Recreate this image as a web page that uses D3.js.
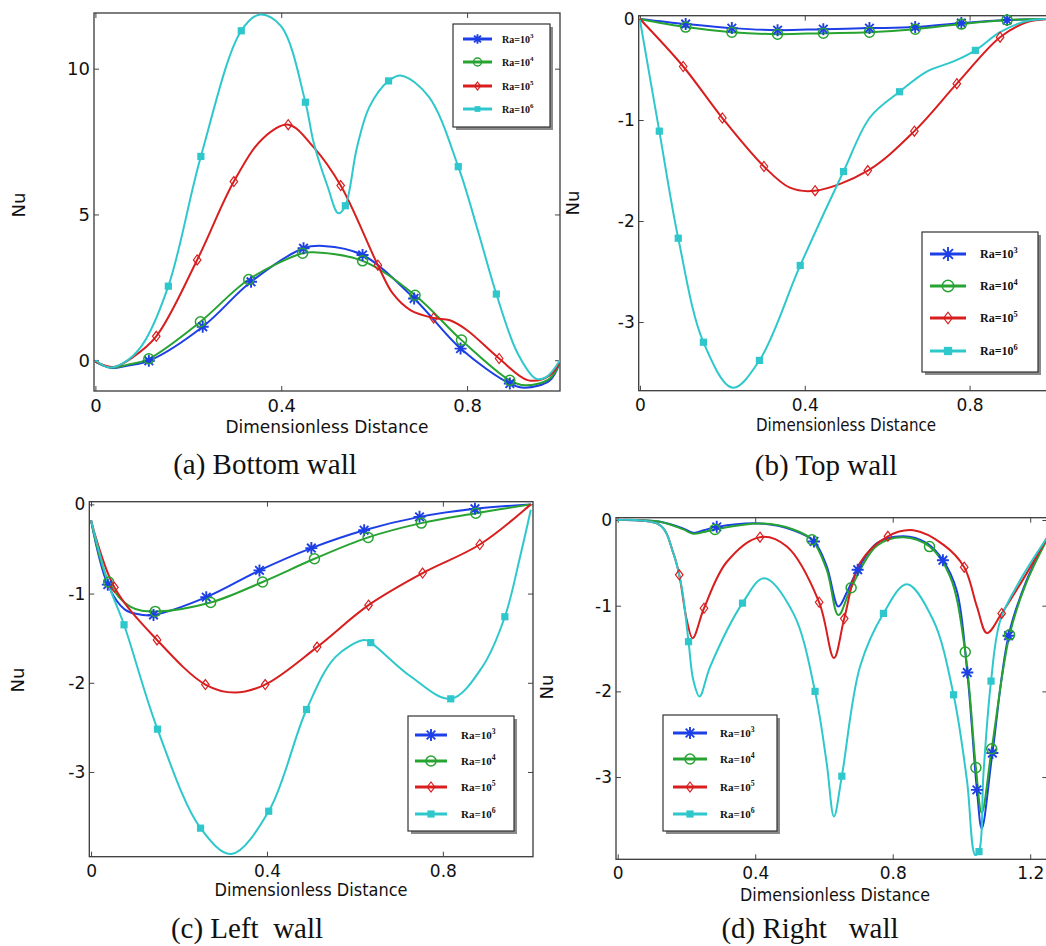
<!DOCTYPE html>
<html>
<head>
<meta charset="utf-8">
<script src="https://cdn.jsdelivr.net/npm/d3@7"></script>
<style>
body { margin: 0; background: #fff; }
svg { display: block; }
text { font-family: "DejaVu Sans", sans-serif; fill: #111; }
.caption { font-family: "Liberation Serif", "Times New Roman", serif; white-space: pre; }
.leg { font-family: "Liberation Serif", "Times New Roman", serif; font-weight: bold; }
</style>
</head>
<body>
<svg id="chart"></svg>
<script>
/* ---------- data ---------- */
var seriesNames = ["Ra=10", "Ra=10", "Ra=10", "Ra=10"]
var seriesExp = ["3", "4", "5", "6"]
var xTickLabels = ["0", "0.4", "0.8"]
var xTickLabelsRight = ["0", "0.4", "0.8", "1.2"]
var captions = ["(a) Bottom wall", "(b) Top wall", "(c) Left  wall", "(d) Right   wall"]

/* (a) bottom wall */
var bottomRa3 = [[0,-0.05],[0.032,-0.26],[0.07,-0.18],[0.115,-0.02],[0.231,1.15],[0.335,2.69],[0.448,3.84],[0.49,3.92],[0.575,3.61],[0.686,2.12],[0.786,0.40],[0.892,-0.8],[0.925,-0.94],[0.978,-0.69],[1.0,-0.05]]
var bottomRa3Marks = [[0.115,-0.02],[0.231,1.15],[0.335,2.69],[0.448,3.84],[0.575,3.61],[0.686,2.12],[0.786,0.40],[0.892,-0.8]]
var bottomRa4 = [[0,-0.05],[0.032,-0.25],[0.07,-0.15],[0.115,0.05],[0.226,1.32],[0.33,2.77],[0.446,3.67],[0.47,3.7],[0.575,3.41],[0.688,2.23],[0.788,0.69],[0.892,-0.69],[0.925,-0.86],[0.978,-0.63],[1.0,-0.05]]
var bottomRa4Marks = [[0.115,0.05],[0.226,1.32],[0.33,2.77],[0.446,3.67],[0.575,3.41],[0.688,2.23],[0.788,0.69],[0.892,-0.69]]
var bottomRa5 = [[0,-0.05],[0.04,-0.23],[0.08,0.1],[0.131,0.82],[0.219,3.44],[0.298,6.13],[0.36,7.6],[0.415,8.08],[0.47,7.3],[0.528,5.99],[0.608,3.26],[0.64,2.29],[0.678,1.72],[0.728,1.45],[0.763,1.37],[0.80,1.03],[0.869,0.06],[0.932,-0.69],[0.978,-0.52],[1.0,-0.05]]
var bottomRa5Marks = [[0.131,0.82],[0.219,3.44],[0.298,6.13],[0.415,8.08],[0.528,5.99],[0.608,3.26],[0.728,1.45],[0.869,0.06]]
var bottomRa6 = [[0,0],[0.03,-0.25],[0.06,-0.1],[0.10,0.5],[0.157,2.54],[0.227,6.99],[0.314,11.3],[0.355,11.86],[0.40,11.45],[0.452,8.85],[0.47,7.45],[0.50,5.95],[0.523,5.04],[0.538,5.3],[0.563,7.3],[0.59,8.7],[0.631,9.58],[0.659,9.76],[0.717,9.05],[0.781,6.64],[0.825,4.35],[0.863,2.27],[0.909,0.23],[0.948,-0.63],[0.971,-0.57],[1.0,0]]
var bottomRa6Marks = [[0.157,2.54],[0.227,6.99],[0.314,11.3],[0.452,8.85],[0.538,5.3],[0.631,9.58],[0.781,6.64],[0.863,2.27]]

/* (b) top wall */
var topRa3 = [[0,0],[0.111,-0.05],[0.223,-0.09],[0.334,-0.11],[0.445,-0.10],[0.557,-0.09],[0.668,-0.08],[0.78,-0.04],[0.891,-0.01],[1,0]]
var topRa3Marks = [[0.111,-0.05],[0.223,-0.09],[0.334,-0.11],[0.445,-0.10],[0.557,-0.09],[0.668,-0.08],[0.78,-0.04],[0.891,-0.01]]
var topRa4 = [[0,0],[0.111,-0.08],[0.223,-0.13],[0.334,-0.15],[0.445,-0.14],[0.557,-0.13],[0.668,-0.10],[0.78,-0.05],[0.891,-0.01],[1,0]]
var topRa4Marks = [[0.111,-0.08],[0.223,-0.13],[0.334,-0.15],[0.445,-0.14],[0.557,-0.13],[0.668,-0.10],[0.78,-0.05],[0.891,-0.01]]
var topRa5 = [[0,0],[0.105,-0.47],[0.2,-0.98],[0.301,-1.46],[0.364,-1.67],[0.425,-1.70],[0.553,-1.50],[0.666,-1.11],[0.769,-0.64],[0.874,-0.18],[0.94,-0.03],[1,0]]
var topRa5Marks = [[0.105,-0.47],[0.2,-0.98],[0.301,-1.46],[0.425,-1.70],[0.553,-1.50],[0.666,-1.11],[0.769,-0.64],[0.874,-0.18]]
var topRa6 = [[0,-0.01],[0.047,-1.11],[0.093,-2.17],[0.154,-3.2],[0.225,-3.65],[0.29,-3.38],[0.389,-2.44],[0.494,-1.51],[0.559,-0.97],[0.63,-0.72],[0.696,-0.52],[0.761,-0.42],[0.814,-0.31],[0.874,-0.13],[0.939,-0.02],[1,0]]
var topRa6Marks = [[0.047,-1.11],[0.093,-2.17],[0.154,-3.2],[0.29,-3.38],[0.389,-2.44],[0.494,-1.51],[0.63,-0.72],[0.814,-0.31]]

/* (c) left wall */
var leftRa3 = [[0,-0.18],[0.038,-0.9],[0.077,-1.18],[0.118,-1.24],[0.142,-1.24],[0.262,-1.04],[0.383,-0.74],[0.501,-0.49],[0.621,-0.29],[0.747,-0.14],[0.873,-0.05],[1,0]]
var leftRa3Marks = [[0.038,-0.9],[0.142,-1.24],[0.262,-1.04],[0.383,-0.74],[0.501,-0.49],[0.621,-0.29],[0.747,-0.14],[0.873,-0.05]]
var leftRa4 = [[0,-0.18],[0.04,-0.87],[0.09,-1.15],[0.146,-1.2],[0.272,-1.10],[0.39,-0.87],[0.508,-0.61],[0.63,-0.37],[0.751,-0.21],[0.875,-0.10],[1,0]]
var leftRa4Marks = [[0.04,-0.87],[0.146,-1.2],[0.272,-1.10],[0.39,-0.87],[0.508,-0.61],[0.63,-0.37],[0.751,-0.21],[0.875,-0.10]]
var leftRa5 = [[0,-0.18],[0.053,-0.93],[0.15,-1.52],[0.26,-2.02],[0.327,-2.11],[0.396,-2.02],[0.514,-1.6],[0.631,-1.13],[0.754,-0.77],[0.884,-0.45],[1,0]]
var leftRa5Marks = [[0.053,-0.93],[0.15,-1.52],[0.26,-2.02],[0.396,-2.02],[0.514,-1.6],[0.631,-1.13],[0.754,-0.77],[0.884,-0.45]]
var leftRa6 = [[0,-0.18],[0.04,-0.9],[0.075,-1.35],[0.151,-2.52],[0.249,-3.63],[0.319,-3.92],[0.404,-3.44],[0.49,-2.3],[0.556,-1.71],[0.621,-1.52],[0.636,-1.55],[0.727,-1.93],[0.818,-2.18],[0.89,-1.82],[0.941,-1.26],[0.975,-0.6],[1.0,-0.06]]
var leftRa6Marks = [[0.075,-1.35],[0.151,-2.52],[0.249,-3.63],[0.404,-3.44],[0.49,-2.3],[0.636,-1.55],[0.818,-2.18],[0.941,-1.26]]

/* (d) right wall */
var rightRa3 = [[0,0],[0.123,-0.02],[0.191,-0.1],[0.22,-0.15],[0.25,-0.12],[0.288,-0.08],[0.414,-0.04],[0.511,-0.12],[0.571,-0.25],[0.608,-0.54],[0.642,-1.01],[0.666,-0.85],[0.698,-0.58],[0.754,-0.27],[0.831,-0.19],[0.899,-0.27],[0.946,-0.47],[0.986,-0.82],[1.017,-1.78],[1.045,-3.15],[1.059,-3.6],[1.09,-2.72],[1.137,-1.35],[1.19,-0.70],[1.25,-0.2]]
var rightRa3Marks = [[0.288,-0.08],[0.571,-0.25],[0.698,-0.58],[0.946,-0.47],[1.017,-1.78],[1.045,-3.15],[1.09,-2.72],[1.137,-1.35]]
var rightRa4 = [[0,0],[0.123,-0.02],[0.191,-0.11],[0.22,-0.16],[0.25,-0.14],[0.283,-0.11],[0.414,-0.04],[0.511,-0.11],[0.565,-0.23],[0.608,-0.58],[0.642,-1.11],[0.679,-0.79],[0.754,-0.3],[0.831,-0.2],[0.907,-0.31],[0.967,-0.66],[1.011,-1.54],[1.042,-2.89],[1.059,-3.42],[1.088,-2.67],[1.14,-1.34],[1.19,-0.72],[1.25,-0.22]]
var rightRa4Marks = [[0.283,-0.11],[0.565,-0.23],[0.679,-0.79],[0.907,-0.31],[1.011,-1.54],[1.042,-2.89],[1.088,-2.67],[1.14,-1.34]]
var rightRa5 = [[0,0],[0.123,-0.06],[0.162,-0.39],[0.179,-0.64],[0.201,-1.17],[0.218,-1.38],[0.251,-1.03],[0.317,-0.49],[0.414,-0.20],[0.492,-0.31],[0.586,-0.96],[0.629,-1.61],[0.659,-1.15],[0.705,-0.5],[0.786,-0.19],[0.86,-0.12],[0.948,-0.29],[1.008,-0.55],[1.045,-1.01],[1.074,-1.32],[1.117,-1.09],[1.19,-0.62],[1.25,-0.2]]
var rightRa5Marks = [[0.179,-0.64],[0.251,-1.03],[0.414,-0.20],[0.586,-0.96],[0.659,-1.15],[0.786,-0.19],[1.008,-0.55],[1.117,-1.09]]
var rightRa6 = [[0,0],[0.123,-0.06],[0.162,-0.39],[0.186,-0.78],[0.206,-1.42],[0.22,-1.87],[0.238,-2.06],[0.269,-1.71],[0.363,-0.97],[0.426,-0.68],[0.511,-1.09],[0.574,-2.0],[0.608,-2.84],[0.629,-3.46],[0.652,-2.99],[0.705,-1.71],[0.773,-1.09],[0.841,-0.75],[0.918,-1.17],[0.977,-2.04],[1.016,-3.04],[1.04,-3.91],[1.051,-3.87],[1.064,-2.96],[1.086,-1.88],[1.113,-1.17],[1.171,-0.70],[1.25,-0.2]]
var rightRa6Marks = [[0.206,-1.42],[0.363,-0.97],[0.574,-2.0],[0.652,-2.99],[0.773,-1.09],[0.977,-2.04],[1.051,-3.87],[1.086,-1.88]]

/* ---------- styles ---------- */
var colors = ["#1d3fe6", "#27a332", "#d81e1e", "#2ec8cc"]
var markers = ["star", "circle", "diamond", "square"]

var width = 1046
var height = 946

var svg = d3.select("#chart")
    .attr("width", width)
    .attr("height", height)

svg.append("rect").attr("width", width).attr("height", height).attr("fill", "#fff")

/* Panels */
var panels = [
    {
        lines: [bottomRa3, bottomRa4, bottomRa5, bottomRa6],
        marks: [bottomRa3Marks, bottomRa4Marks, bottomRa5Marks, bottomRa6Marks],
        xDomain: [-0.003, 1.0], xRange: [94, 560],
        yDomain: [-1.055, 11.91], yRange: [391, 13],
        xTicks: [0, 0.4, 0.8], xLabels: xTickLabels, yTicks: [0, 5, 10], yLabels: ["0", "5", "10"],
        tickFont: 18, titleX: 327, titleY: 433, titleLen: 203, nuX: 19, nuY: 205,
        legend: { x: 453, y: 24, w: 97, h: 103, rows: [39, 62, 86, 109], lx: [463, 492], tx: 502, font: 10, ms: 0.8 },
        caption: captions[0], capX: 265, capY: 474
    },
    {
        lines: [topRa3, topRa4, topRa5, topRa6],
        marks: [topRa3Marks, topRa4Marks, topRa5Marks, topRa6Marks],
        xDomain: [-0.003, 1.0], xRange: [638.7, 1052],
        yDomain: [-3.68, 0.033], yRange: [390.7, 15.7],
        xTicks: [0, 0.4, 0.8], xLabels: xTickLabels, yTicks: [0, -1, -2, -3], yLabels: ["0", "-1", "-2", "-3"],
        tickFont: 17, titleX: 846, titleY: 431, titleLen: 180, nuX: 573, nuY: 203,
        legend: { x: 922, y: 232, w: 116, h: 140, rows: [254, 286, 318, 351], lx: [930, 966], tx: 980, font: 12, ms: 1.15 },
        caption: captions[1], capX: 826, capY: 475
    },
    {
        lines: [leftRa3, leftRa4, leftRa5, leftRa6],
        marks: [leftRa3Marks, leftRa4Marks, leftRa5Marks, leftRa6Marks],
        xDomain: [-0.004, 1.005], xRange: [89.3, 533],
        yDomain: [-3.95, 0.03], yRange: [856.7, 501.7],
        xTicks: [0, 0.4, 0.8], xLabels: xTickLabels, yTicks: [0, -1, -2, -3], yLabels: ["0", "-1", "-2", "-3"],
        tickFont: 17, titleX: 311, titleY: 896, titleLen: 193, nuX: 18, nuY: 680,
        legend: { x: 408, y: 716, w: 106, h: 115, rows: [735, 761, 787, 814], lx: [415, 447], tx: 461, font: 11, ms: 1.0 },
        caption: captions[2], capX: 247, capY: 938
    },
    {
        lines: [rightRa3, rightRa4, rightRa5, rightRa6],
        marks: [rightRa3Marks, rightRa4Marks, rightRa5Marks, rightRa6Marks],
        xDomain: [-0.005, 1.25], xRange: [616, 1047.4],
        yDomain: [-3.96, 0.027], yRange: [859.3, 517.7],
        xTicks: [0, 0.4, 0.8, 1.2], xLabels: xTickLabelsRight, yTicks: [0, -1, -2, -3], yLabels: ["0", "-1", "-2", "-3"],
        tickFont: 17, titleX: 835, titleY: 901, titleLen: 190, nuX: 547, nuY: 687,
        legend: { x: 663, y: 715, w: 114, h: 116, rows: [733, 759, 787, 814], lx: [673, 707], tx: 720, font: 11, ms: 1.0 },
        caption: captions[3], capX: 810, capY: 938
    }
]

function drawMarker(g, type, color, s) {
    if (type == "star") {
        var a = 6 * s, b = 4.3 * s
        g.append("path")
            .attr("d", "M0," + (-a) + "V" + a + "M" + (-a) + ",0H" + a +
                "M" + (-b) + "," + (-b) + "L" + b + "," + b + "M" + (-b) + "," + b + "L" + b + "," + (-b))
            .attr("stroke", color).attr("stroke-width", 1.9).attr("fill", "none")
    } else if (type == "circle") {
        g.append("circle").attr("r", 5 * s)
            .attr("stroke", color).attr("stroke-width", 1.5).attr("fill", "none")
    } else if (type == "diamond") {
        var d = 5 * s
        g.append("path").attr("d", "M0," + (-d) + "L" + (d * 0.75) + ",0L0," + d + "L" + (-d * 0.75) + ",0Z")
            .attr("stroke", color).attr("stroke-width", 1.2).attr("fill", "none")
    } else {
        var q = 3.6 * s
        g.append("rect").attr("x", -q).attr("y", -q).attr("width", 2 * q).attr("height", 2 * q)
            .attr("fill", color)
    }
}

panels.forEach(function (p, pi) {

    /* Scales */
    var xScale = d3.scaleLinear().domain(p.xDomain).range(p.xRange)
    var yScale = d3.scaleLinear().domain(p.yDomain).range(p.yRange)

    var x0 = p.xRange[0]
    var y0 = p.yRange[1], y1 = p.yRange[0]

    var clipId = "clip" + pi
    svg.append("clipPath").attr("id", clipId)
        .append("rect").attr("x", x0).attr("y", y0 - 2).attr("width", p.xRange[1] - x0).attr("height", y1 - y0 + 4)

    var g = svg.append("g")

    /* Axes: inward ticks on all four sides */
    var bottom = d3.axisBottom(xScale).tickValues(p.xTicks).tickSize(-5).tickFormat(function (d, i) { return p.xLabels[i] }).tickPadding(10)
    var top = d3.axisTop(xScale).tickValues(p.xTicks).tickSize(-5).tickFormat("")
    var left = d3.axisLeft(yScale).tickValues(p.yTicks).tickSize(-5).tickFormat(function (d, i) { return p.yLabels[i] }).tickPadding(4)
    var right = d3.axisRight(yScale).tickValues(p.yTicks).tickSize(-5).tickFormat("")

    var axes = [
        g.append("g").attr("transform", "translate(0," + y1 + ")").call(bottom),
        g.append("g").attr("transform", "translate(0," + y0 + ")").call(top),
        g.append("g").attr("transform", "translate(" + x0 + ",0)").call(left),
        g.append("g").attr("transform", "translate(" + p.xRange[1] + ",0)").call(right)
    ]
    axes.forEach(function (a) {
        a.select(".domain").remove()
        a.selectAll("line").attr("stroke", "#444").attr("stroke-width", 1)
        a.selectAll("text").attr("font-size", p.tickFont).attr("font-family", "DejaVu Sans, sans-serif").attr("fill", "#111")
    })
    axes[0].selectAll("text").attr("dy", "0.6em")

    /* Frame */
    g.append("rect")
        .attr("x", x0).attr("y", y0).attr("width", p.xRange[1] - x0).attr("height", y1 - y0)
        .attr("fill", "none").attr("stroke", "#3a3a3a").attr("stroke-width", 1.3)

    /* Lines */
    var line = d3.line()
        .x(function (d) { return xScale(d[0]) })
        .y(function (d) { return yScale(d[1]) })
        .curve(d3.curveCatmullRom.alpha(0.5))

    var plot = g.append("g").attr("clip-path", "url(#" + clipId + ")")
    p.lines.forEach(function (data, si) {
        plot.append("path")
            .attr("d", line(data))
            .attr("fill", "none")
            .attr("stroke", colors[si])
            .attr("stroke-width", 2)
    })
    p.marks.forEach(function (data, si) {
        plot.selectAll(null)
            .data(data)
            .enter()
                .append("g")
                    .attr("transform", function (d) { return "translate(" + xScale(d[0]) + "," + yScale(d[1]) + ")" })
                    .each(function () { drawMarker(d3.select(this), markers[si], colors[si], 1) })
    })

    /* Axis titles */
    g.append("text")
        .attr("x", p.titleX).attr("y", p.titleY)
        .attr("text-anchor", "middle")
        .attr("font-size", 18)
        .attr("textLength", p.titleLen).attr("lengthAdjust", "spacingAndGlyphs")
        .text("Dimensionless Distance")

    g.append("text")
        .attr("transform", "translate(" + p.nuX + "," + p.nuY + ") rotate(-90)")
        .attr("text-anchor", "middle")
        .attr("dy", "0.35em")
        .attr("font-size", 18)
        .text("Nu")

    /* Legend */
    var L = p.legend
    var lg = g.append("g")
    lg.append("rect").attr("x", L.x + 3).attr("y", L.y + 3).attr("width", L.w).attr("height", L.h).attr("fill", "#8a8a8a")
    lg.append("rect").attr("x", L.x).attr("y", L.y).attr("width", L.w).attr("height", L.h)
        .attr("fill", "#fff").attr("stroke", "#333").attr("stroke-width", 1.2)

    L.rows.forEach(function (ry, si) {
        lg.append("line")
            .attr("x1", L.lx[0]).attr("x2", L.lx[1]).attr("y1", ry).attr("y2", ry)
            .attr("stroke", colors[si]).attr("stroke-width", 3)
        var mg = lg.append("g").attr("transform", "translate(" + ((L.lx[0] + L.lx[1]) / 2) + "," + ry + ")")
        drawMarker(mg, markers[si], colors[si], L.ms)
        var t = lg.append("text").attr("class", "leg")
            .attr("x", L.tx).attr("y", ry + L.font * 0.35)
            .attr("font-size", L.font)
        t.append("tspan").text(seriesNames[si])
        t.append("tspan").attr("dy", -L.font * 0.45).attr("font-size", L.font * 0.7).text(seriesExp[si])
    })

    /* Caption */
    g.append("text").attr("class", "caption")
        .attr("x", p.capX).attr("y", p.capY)
        .attr("text-anchor", "middle")
        .attr("font-size", 29)
        .text(p.caption)
})
</script>
</body>
</html>
